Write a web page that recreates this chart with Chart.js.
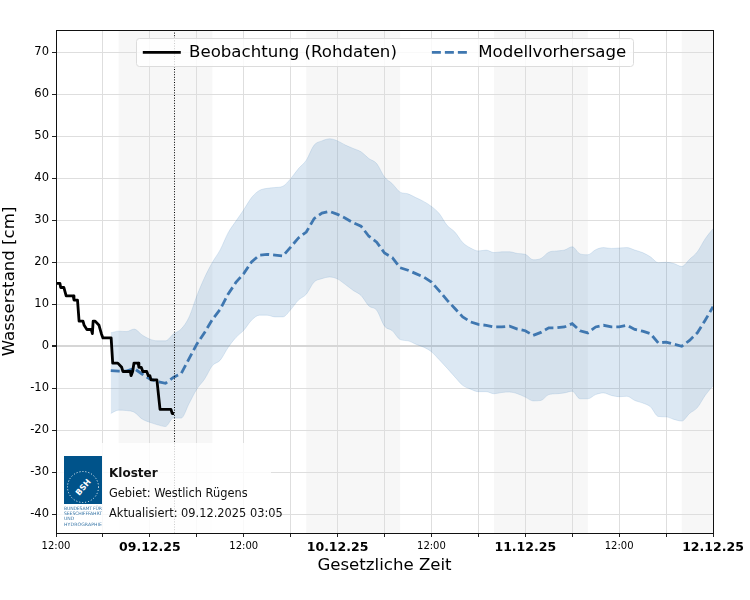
<!DOCTYPE html>
<html lang="de">
<head>
  <meta charset="UTF-8">
  <title>Wasserstand Kloster</title>
  <script src="https://cdn.jsdelivr.net/npm/chart.js"></script>
  <style>
    html, body { margin:0; padding:0; background:#fff; font-family:"DejaVu Sans", sans-serif; }
    #wrap { position:relative; width:750px; height:600px; overflow:hidden; }
    canvas { display:block; }
    #infoBox { position:absolute; left:57px; top:443px; width:214px; height:90px; background:rgba(255,255,255,.8); }
    #logo { position:absolute; left:64px; top:456px; }
    .info { position:absolute; left:109px; font-size:11.4px; line-height:14px; color:#111; white-space:nowrap; }
  </style>
</head>
<body>
<div id="wrap">
  <canvas id="chart" width="750" height="600"></canvas>
  <div id="infoBox"></div>
  <svg id="logo" width="38" height="74" viewBox="0 0 38 74">
    <rect x="0" y="0" width="38" height="48" fill="#00538a"/>
    <circle cx="19" cy="31" r="15.5" fill="none" stroke="#fff" stroke-width="1" stroke-dasharray="1 2"/>
    <text x="19" y="34" transform="rotate(-50 19 31)" text-anchor="middle" font-family="DejaVu Sans" font-weight="bold" font-size="8" fill="#fff">BSH</text>
    <g font-family="DejaVu Sans" font-size="4.6" fill="#3b78a8">
      <text x="0" y="54" textLength="38">BUNDESAMT FÜR</text>
      <text x="0" y="59" textLength="38">SEESCHIFFFAHRT</text>
      <text x="0" y="64">UND</text>
      <text x="0" y="70" textLength="38">HYDROGRAPHIE</text>
    </g>
  </svg>
  <div class="info" style="top:466px;font-weight:bold;font-size:12px">Kloster</div>
  <div class="info" style="top:486px">Gebiet: Westlich Rügens</div>
  <div class="info" style="top:506px">Aktualisiert: 09.12.2025 03:05</div>
</div>
<script>
// hours after 08.12.25 12:00
const obsHours = [0,0.5,0.6,1,1.15,1.3,2.2,2.3,2.75,2.95,3.45,3.6,3.95,4.5,4.65,4.75,5,5.5,5.8,6,6.3,7.05,7.25,7.9,8.4,8.55,9.5,9.6,9.8,9.97,10.5,10.6,10.9,11.1,11.6,11.8,12,12.15,12.9,13.3,14.7,14.85,15.08];
const obsValues = [15,15,14,14,13,12,12,11,11,6,6,5,4,4,3,6,6,5,3,2,2,2,-4,-4,-5,-6,-6,-7,-6,-4,-4,-5,-5,-6,-6,-7,-7,-8,-8,-15,-15,-16,-16];

const fcHours = [7,8,9,10,11,12,13,14,15,16,17,18,19,20,21,22,23,24,25,26,27,28,29,30,31,32,33,34,35,36,37,38,39,40,41,42,43,44,45,46,47,48,49,50,51,52,53,54,55,56,57,58,59,60,61,62,63,64,65,66,67,68,69,70,71,72,73,74,75,76,77,78,79,80,81,82,83,84];
const fcValues = [-5.8,-5.9,-5.9,-5.3,-6.6,-7.8,-8.4,-8.8,-7.4,-6.5,-3,0.5,3.3,6.4,8.8,12.4,15.2,17.3,20.1,21.7,21.9,21.7,21.5,23.6,25.8,27.2,30.4,31.7,32.1,31.4,30.5,29.4,28.6,26.2,24.8,22.2,21.1,18.7,18.1,17.3,16.5,15.3,13.2,11,9,7,5.8,5.2,5,4.6,4.6,4.8,4.1,3.7,2.6,3.3,4.4,4.4,4.6,5.4,3.7,3.2,4.6,5,4.6,4.6,5,4,3.6,3,0.8,1,0.5,0,1.4,3.2,6.2,9.4];
const fcUpper = [3.2,3.6,3.5,4.1,2.7,1.7,1.3,1.3,2.9,4.1,6.9,12,16.4,20,23,27,29.8,32.5,35.4,37.1,37.6,37.8,38.1,39.9,42.3,44.3,47.9,48.9,49.4,48.9,47.9,47.1,46.3,44.7,43.5,40.3,38.7,36.7,36.3,35.4,34.5,33.3,31.6,28.8,27.2,24.7,23.4,22.7,22.9,22.3,22.5,22.5,22.1,21.9,20.6,20.9,22.4,22.7,22.9,23.7,22,21.8,23,23.5,23.3,23.4,23.5,22.9,22.3,21.3,19.9,20,19.7,19,20.7,22.5,25.6,28];
const fcLower = [-16,-15.2,-15.3,-15.7,-17.3,-18.1,-18.7,-19.1,-17.1,-17.1,-13.7,-10.2,-7.8,-4.6,-3.3,-0.3,2.1,3.8,6.2,7.4,7.4,7,7,8.7,11,12.4,15.3,16.1,16.5,16,14.7,13.3,12.1,9.6,8.6,4.8,3.7,1.6,1.3,0.5,-0.2,-1.3,-3.2,-5.2,-7.3,-9.3,-10.2,-10.8,-10.8,-11.3,-11,-10.9,-11.3,-12.1,-13,-12.9,-11.5,-11.3,-11.1,-10.7,-12.5,-12.5,-11.5,-11.1,-11.7,-12,-11.9,-12.9,-13.5,-14.4,-16.7,-16.8,-17.4,-17.8,-16,-14.6,-11.7,-9.4];

const xTicks = [0,6,12,18,24,30,36,42,48,54,60,66,72,78,84];
const xLabels = ['12:00','','09.12.25','','12:00','','10.12.25','','12:00','','11.12.25','','12:00','','12.12.25'];
const yTicks = [-40,-30,-20,-10,0,10,20,30,40,50,60,70];
const nightStart = [8,32,56,80];
const nightEnd = [20,44,68,84];
const nowHour = 15.08;

function points(xs, ys) { return xs.map((x,i) => ({x:x, y:ys[i]})); }

// night shading goes under the grid, "now" line and frame on top
const decor = {
  id:'decor',
  beforeDraw(chart) {
    const ctx = chart.ctx, a = chart.chartArea, xs = chart.scales.x;
    ctx.fillStyle = '#f7f7f7';
    nightStart.forEach((s,i) => {
      const l = xs.getPixelForValue(s), r = xs.getPixelForValue(nightEnd[i]);
      ctx.fillRect(l, a.top, r-l, a.bottom-a.top);
    });
  },
  afterDatasetsDraw(chart) {
    const ctx = chart.ctx, a = chart.chartArea, x = Math.round(chart.scales.x.getPixelForValue(nowHour))+0.5;
    ctx.save();
    ctx.strokeStyle = '#000'; ctx.lineWidth = 1; ctx.setLineDash([1,1.6]);
    ctx.beginPath(); ctx.moveTo(x,a.top); ctx.lineTo(x,a.bottom); ctx.stroke();
    ctx.setLineDash([]);
    ctx.strokeStyle = '#111';
    ctx.strokeRect(a.left+0.5,a.top+0.5,a.right-a.left,a.bottom-a.top);
    ctx.restore();
  }
};

// legend sits inside the plot, matplotlib style
const legendInside = {
  id:'legendInside',
  beforeLayout(chart) {
    const lg = chart.legend;
    if (lg._inside) return;
    lg._inside = true;
    const fit = lg.fit;
    lg.fit = function() { fit.call(this); this.height = 30; };
    lg._layers = () => [{ z:5, draw() {
      const ctx = chart.ctx;
      ctx.save();
      ctx.beginPath(); ctx.roundRect(136.5,38.5,497,28,3);
      ctx.fillStyle = 'rgba(255,255,255,.8)'; ctx.fill();
      ctx.strokeStyle = '#dcdcdc'; ctx.lineWidth = 1; ctx.stroke();
      ctx.translate(28,9);
      lg._draw();
      ctx.restore();
    }}];
  }
};

new Chart(document.getElementById('chart'), {
  type:'line',
  data:{ datasets:[
    { label:'Beobachtung (Rohdaten)', data:points(obsHours,obsValues), borderColor:'#000', backgroundColor:'#000', borderWidth:2.8, borderJoinStyle:'round', pointRadius:0, order:0 },
    { label:'Modellvorhersage', data:points(fcHours,fcValues), borderColor:'#3f77b0', backgroundColor:'#3f77b0', borderWidth:2.8, borderDash:[9,4], pointRadius:0, order:1 },
    { label:'upper', data:points(fcHours,fcUpper), borderColor:'rgba(60,130,190,.15)', borderWidth:1, cubicInterpolationMode:'monotone', pointRadius:0, fill:'+1', backgroundColor:'rgba(60,130,190,.18)', order:2 },
    { label:'lower', data:points(fcHours,fcLower), borderColor:'rgba(60,130,190,.15)', borderWidth:1, cubicInterpolationMode:'monotone', pointRadius:0, order:2 }
  ]},
  options:{
    responsive:false, animation:false,
    layout:{ padding:{ left:0, right:37, top:0, bottom:0 } },
    plugins:{
      legend:{ position:'top', labels:{
        color:'#000', font:{ family:'DejaVu Sans', size:16.6 }, padding:35,
        usePointStyle:true, pointStyle:'line', pointStyleWidth:38, boxHeight:15,
        // point style drops the line dash, put it back from the dataset
        generateLabels:chart => Chart.defaults.plugins.legend.labels.generateLabels(chart)
          .filter(item => item.datasetIndex < 2)
          .map(item => {
            const ds = chart.data.datasets[item.datasetIndex];
            return Object.assign(item, { lineDash:ds.borderDash, lineWidth:2.8, strokeStyle:ds.borderColor });
          })
      }},
      tooltip:{ enabled:false }
    },
    scales:{
      x:{ type:'linear', min:0, max:84,
        afterBuildTicks:s => { s.ticks = xTicks.map(v => ({value:v})); },
        afterFit:s => { s.height = 67; },
        grid:{ color:'#dedede', lineWidth:1, tickColor:'#222', tickLength:4 },
        border:{ display:false },
        ticks:{ autoSkip:false, maxRotation:0, padding:3, color:'#000',
          callback:v => xLabels[xTicks.indexOf(v)],
          font:c => (c.tick && xLabels[xTicks.indexOf(c.tick.value)].includes('.'))
            ? { family:'DejaVu Sans', size:12.5, weight:'bold' } : { family:'DejaVu Sans', size:10 } },
        title:{ display:true, text:'Gesetzliche Zeit', color:'#000', font:{ family:'DejaVu Sans', size:16.6 }, padding:{ top:4, bottom:24 } }
      },
      y:{ min:-44.45, max:75.3,
        afterBuildTicks:s => { s.ticks = yTicks.map(v => ({value:v})); },
        afterFit:s => { s.width = 56; },
        grid:{ color:c => c.tick && c.tick.value === 0 ? '#d6d6d6' : '#dedede', lineWidth:c => c.tick && c.tick.value === 0 ? 2 : 1, tickColor:'#222', tickLength:4 },
        border:{ display:false },
        ticks:{ padding:3, color:'#000', font:{ family:'DejaVu Sans', size:11.5 } },
        title:{ display:true, text:'Wasserstand [cm]', color:'#000', font:{ family:'DejaVu Sans', size:16.6 }, padding:{ top:0, bottom:0 } }
      }
    }
  },
  plugins:[decor, legendInside]
});
</script>
</body>
</html>
